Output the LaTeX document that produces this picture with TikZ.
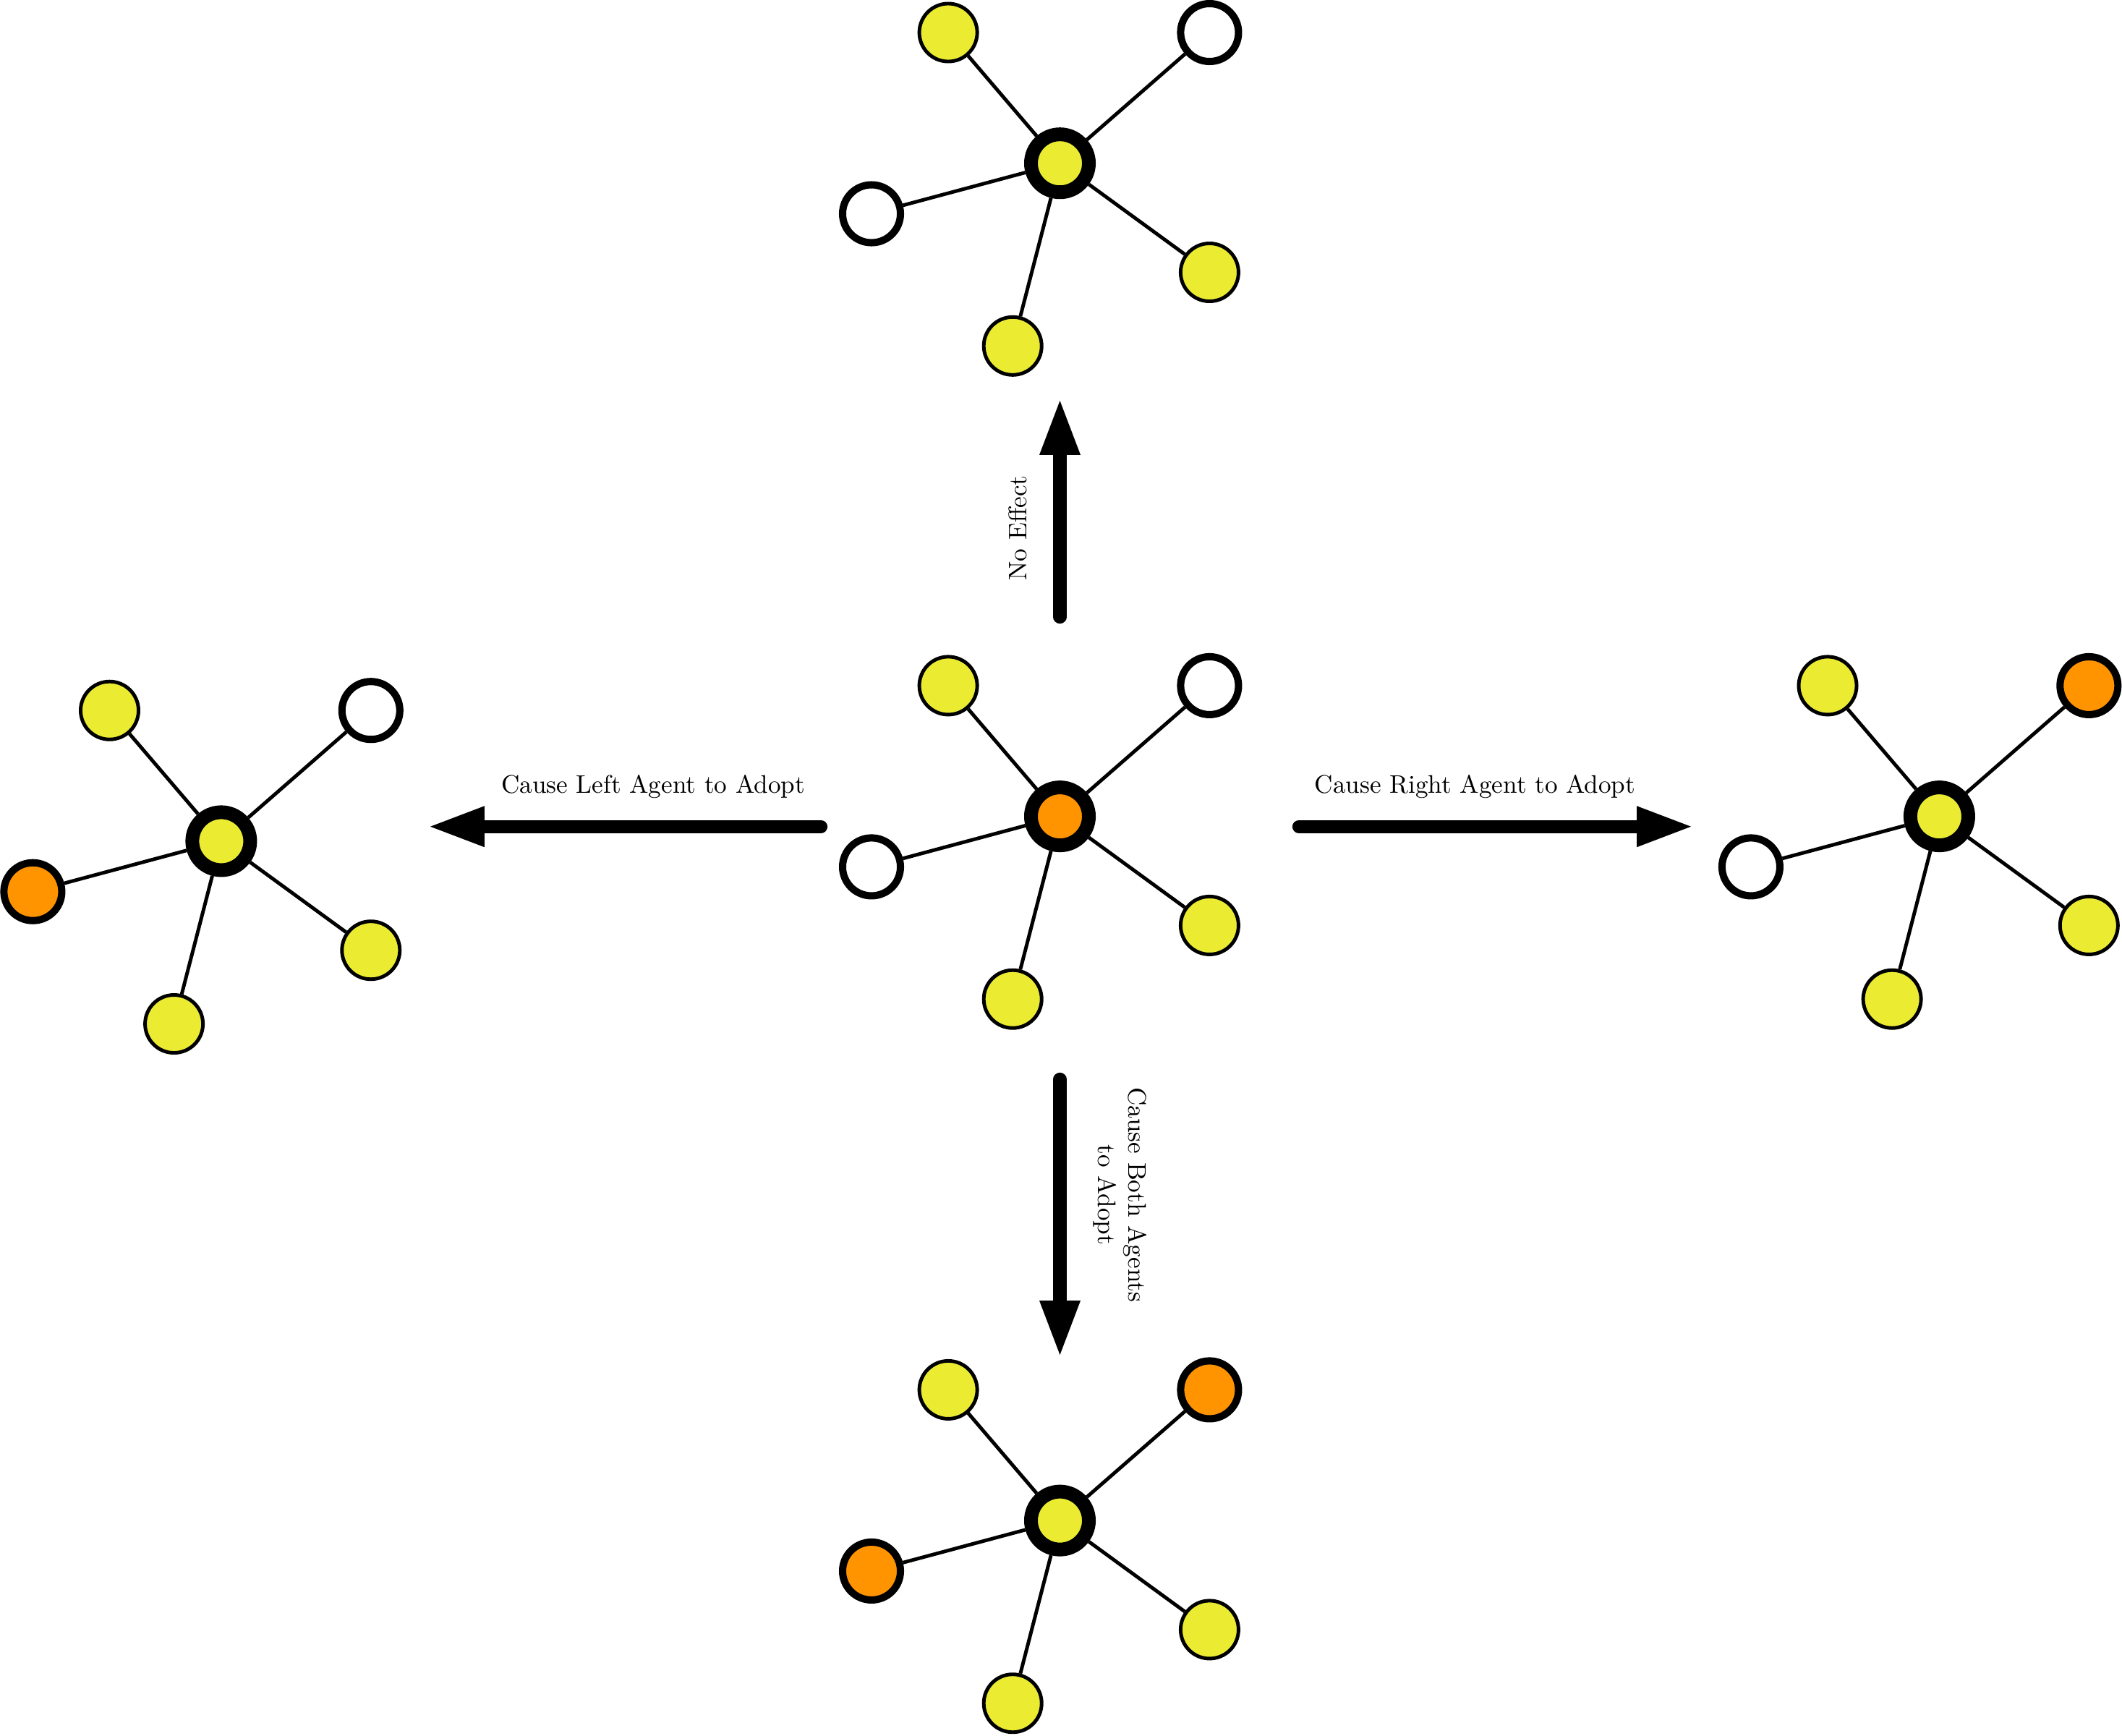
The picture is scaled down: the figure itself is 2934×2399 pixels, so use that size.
\documentclass[tikz,border=0pt]{standalone}
\usetikzlibrary{arrows.meta,calc}
\definecolor{agyellow}{RGB}{235,236,50}
\definecolor{agorange}{RGB}{255,148,0}
\tikzset{
  agent/.style={circle, inner sep=0pt, minimum size=8mm, draw=black},
  yleaf/.style={agent, fill=agyellow, line width=1.4pt},
  wleaf/.style={agent, fill=white, line width=2.85pt},
  oleaf/.style={agent, fill=agorange, line width=2.85pt},
  hubnode/.style={agent, line width=5.4pt},
  edge/.style={line width=1.4pt, draw=black},
  bigarrow/.style={line width=5.2pt, line cap=round, -{Triangle[length=21.3pt,width=16.2pt,line width=0pt]}},
  lbl/.style={inner sep=0pt, font=\normalsize}
}
\newcommand{\mkcluster}[5]{%
  \node[hubnode, fill=#3] (#1h) at #2 {};
  \node[yleaf] (#1ul) at ($(#1h)+(-154.4,-180.7)$) {};
  \node[#4] (#1ur) at ($(#1h)+(206.9,-180.7)$) {};
  \node[#5] (#1l) at ($(#1h)+(-260.5,69.8)$) {};
  \node[yleaf] (#1lr) at ($(#1h)+(206.9,150.8)$) {};
  \node[yleaf] (#1b) at ($(#1h)+(-65.3,252.6)$) {};
  \draw[edge] (#1h) -- (#1ul);
  \draw[edge] (#1h) -- (#1ur);
  \draw[edge] (#1h) -- (#1l);
  \draw[edge] (#1h) -- (#1lr);
  \draw[edge] (#1h) -- (#1b);
}
\begin{document}
\begin{tikzpicture}[x=0.01cm, y=-0.01cm]
\useasboundingbox (0,0) rectangle (2934,2399);
% clusters
\mkcluster{c}{(1465.5,1128.6)}{agorange}{wleaf}{wleaf}
\mkcluster{t}{(1465.5,225.7)}{agyellow}{wleaf}{wleaf}
\mkcluster{l}{(305.9,1162.9)}{agyellow}{wleaf}{oleaf}
\mkcluster{r}{(2681.4,1128.6)}{agyellow}{oleaf}{wleaf}
\mkcluster{d}{(1465.5,2102.1)}{agyellow}{oleaf}{oleaf}
% arrow end points
\coordinate (upS) at (1465.5,853);
\coordinate (upE) at (1465.5,554);
\coordinate (dnS) at (1465.5,1492);
\coordinate (dnE) at (1465.5,1873);
\coordinate (lfS) at (1135,1142.7);
\coordinate (lfE) at (595,1142.7);
\coordinate (rtS) at (1796,1142.7);
\coordinate (rtE) at (2338,1142.7);
\draw[bigarrow] (upS) -- (upE);
\draw[bigarrow] (dnS) -- (dnE);
\draw[bigarrow] (lfS) -- (lfE);
\draw[bigarrow] (rtS) -- (rtE);
% labels
\node[lbl, rotate=90] (tNo) at (1407,730) {No Effect};
\node[lbl, anchor=base] (tLeft) at (903,1096.7) {Cause Left Agent to Adopt};
\node[lbl, anchor=base] (tRight) at (2039.5,1096.7) {Cause Right Agent to Adopt};
\node[lbl, rotate=-90, align=center] (tBoth) at (1549,1651.7) {Cause Both Agents\\to Adopt};
\end{tikzpicture}
\end{document}
